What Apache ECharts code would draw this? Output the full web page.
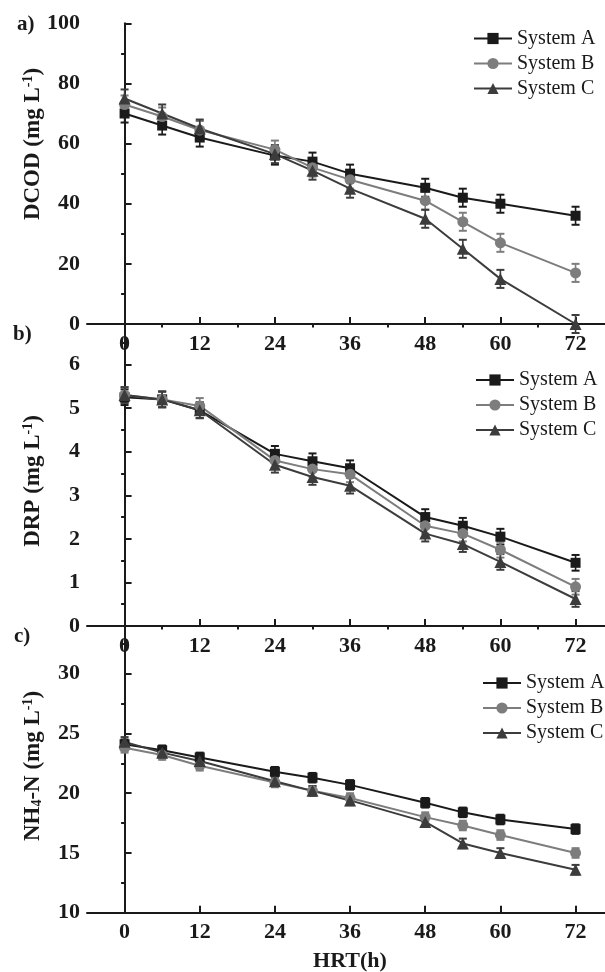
<!DOCTYPE html>
<html>
<head>
<meta charset="utf-8">
<script src="https://cdn.jsdelivr.net/npm/echarts@6/dist/echarts.min.js"></script>
<style>html,body{margin:0;padding:0;background:#fff}#c{width:605px;height:972px}</style>
</head>
<body>
<div id="c"></div>
<script>
const hours = [0, 6, 12, 24, 30, 36, 48, 54, 60, 72];
const seriesNames = ['System A', 'System B', 'System C'];
const xMajorTicks = [0, 12, 24, 36, 48, 60, 72];
const xMinorTicks = [6, 18, 30, 42, 54, 66];

// a) DCOD
const codA = [70, 66, 62, 56, 54, 50, 45.3, 42, 40, 36];
const codB = [73, 69, 64.5, 58, 52, 48, 41, 34, 27, 17];
const codC = [75, 70, 65, 56.5, 51, 45, 35, 25, 15, 0];
const codErrA = [3, 3, 3, 3, 3, 3, 3, 3, 3, 3];
const codErrB = [3, 3, 3, 3, 3, 3, 3, 3, 3, 3];
const codErrC = [3, 3, 3, 3, 3, 3, 3, 3, 3, 3];
const codMajor = [0, 20, 40, 60, 80, 100];
const codMinor = [10, 30, 50, 70, 90];

// b) DRP
const drpA = [5.25, 5.2, 4.95, 3.95, 3.78, 3.62, 2.5, 2.3, 2.05, 1.45];
const drpB = [5.3, 5.2, 5.05, 3.8, 3.6, 3.48, 2.3, 2.12, 1.75, 0.9];
const drpC = [5.3, 5.2, 4.95, 3.7, 3.42, 3.22, 2.12, 1.88, 1.47, 0.62];
const drpErrA = [0.18, 0.18, 0.18, 0.18, 0.18, 0.18, 0.18, 0.18, 0.18, 0.18];
const drpErrB = [0.18, 0.18, 0.18, 0.18, 0.18, 0.18, 0.18, 0.18, 0.18, 0.18];
const drpErrC = [0.18, 0.18, 0.18, 0.18, 0.18, 0.18, 0.18, 0.18, 0.18, 0.18];
const drpMajor = [0, 1, 2, 3, 4, 5, 6];
const drpMinor = [0.5, 1.5, 2.5, 3.5, 4.5, 5.5, 6.5];

// c) NH4-N
const nhA = [24.1, 23.6, 23.0, 21.8, 21.3, 20.7, 19.2, 18.4, 17.8, 17.0];
const nhB = [23.8, 23.2, 22.3, 20.9, 20.2, 19.6, 18.0, 17.3, 16.5, 15.0];
const nhC = [24.3, 23.4, 22.7, 21.0, 20.2, 19.4, 17.6, 15.8, 15.0, 13.6];
const nhErrA = [0.4, 0.4, 0.4, 0.4, 0.4, 0.4, 0.4, 0.4, 0.4, 0.4];
const nhErrB = [0.4, 0.4, 0.4, 0.4, 0.4, 0.4, 0.4, 0.4, 0.4, 0.4];
const nhErrC = [0.4, 0.4, 0.4, 0.4, 0.4, 0.4, 0.4, 0.4, 0.4, 0.4];
const nhMajor = [10, 15, 20, 25, 30];
const nhMinor = [12.5, 17.5, 22.5, 27.5, 32.5];

const FONT = "'Liberation Serif', 'Times New Roman', serif";
const colors = ['#1a1a1a', '#7d7d7d', '#3c3c3c'];
const symbols = ['rect', 'circle', 'triangle'];
const symbolSizes = [10, 11, 12];
const AX = '#1a1a1a';

const panels = [
  { top: 23.3, height: 300.7, min: 0, max: 100, major: codMajor, minor: codMinor,
    vals: [codA, codB, codC], errs: [codErrA, codErrB, codErrC] },
  { top: 324, height: 302, min: 0, max: 6.93, major: drpMajor, minor: drpMinor,
    vals: [drpA, drpB, drpC], errs: [drpErrA, drpErrB, drpErrC] },
  { top: 626, height: 286.7, min: 10, max: 34, major: nhMajor, minor: nhMinor,
    vals: [nhA, nhB, nhC], errs: [nhErrA, nhErrB, nhErrC] }
];

const grid = [], xAxis = [], yAxis = [], series = [];
const labelStyle = { color: AX, fontFamily: FONT, fontWeight: 'bold', fontSize: 22 };

panels.forEach((p, i) => {
  grid.push({ left: 87, right: 0, top: p.top, height: p.height, containLabel: false });
  xAxis.push({
    type: 'value', gridIndex: i, min: -6, max: 76.7,
    axisLine: { show: true, lineStyle: { color: AX, width: 2 } },
    axisTick: { show: true, inside: true, length: 7, customValues: xMajorTicks, lineStyle: { color: AX, width: 2 } },
    axisLabel: Object.assign({ show: true, margin: 9, customValues: xMajorTicks }, labelStyle),
    splitLine: { show: false }
  });
  xAxis.push({
    type: 'value', gridIndex: i, min: -6, max: 76.7,
    axisLine: { show: false },
    axisTick: { show: true, inside: true, length: 3.5, customValues: xMinorTicks, lineStyle: { color: AX, width: 2 } },
    axisLabel: { show: false, customValues: xMinorTicks },
    splitLine: { show: false }
  });
  yAxis.push({
    type: 'value', gridIndex: i, min: p.min, max: p.max,
    axisLine: { show: true, lineStyle: { color: AX, width: 2 } },
    axisTick: { show: true, inside: true, length: 7, customValues: p.major, lineStyle: { color: AX, width: 2 } },
    axisLabel: Object.assign({ show: true, margin: 7, customValues: p.major }, labelStyle),
    splitLine: { show: false }
  });
  yAxis.push({
    type: 'value', gridIndex: i, min: p.min, max: p.max,
    axisLine: { show: false },
    axisTick: { show: true, inside: true, length: 3.5, customValues: p.minor, lineStyle: { color: AX, width: 2 } },
    axisLabel: { show: false, customValues: p.minor },
    splitLine: { show: false }
  });

  p.vals.forEach((vals, s) => {
    const col = colors[s];
    const errs = p.errs[s];
    series.push({
      type: 'custom', name: seriesNames[s] + ' err', xAxisIndex: 2 * i, yAxisIndex: 2 * i,
      data: hours.map((h, k) => [h, vals[k], errs[k]]),
      encode: { x: 0, y: 1 }, clip: false, silent: true, z: 2,
      renderItem: function (params, api) {
        const x = api.value(0), y = api.value(1), e = api.value(2);
        const t = api.coord([x, y + e]), b = api.coord([x, y - e]);
        const hw = 4;
        return { type: 'group', children: [
          { type: 'line', shape: { x1: t[0], y1: t[1], x2: b[0], y2: b[1] }, style: { stroke: col, lineWidth: 1.6 } },
          { type: 'line', shape: { x1: t[0] - hw, y1: t[1], x2: t[0] + hw, y2: t[1] }, style: { stroke: col, lineWidth: 2 } },
          { type: 'line', shape: { x1: b[0] - hw, y1: b[1], x2: b[0] + hw, y2: b[1] }, style: { stroke: col, lineWidth: 2 } }
        ] };
      }
    });
    series.push({
      type: 'line', name: seriesNames[s], xAxisIndex: 2 * i, yAxisIndex: 2 * i,
      data: hours.map((h, k) => [h, vals[k]]),
      symbol: symbols[s], symbolSize: symbolSizes[s], showSymbol: true,
      lineStyle: { color: col, width: 2 },
      itemStyle: { color: col, borderWidth: 0 },
      z: 3, clip: false
    });
  });
});

const legendBase = {
  orient: 'vertical', data: seriesNames, itemWidth: 38, itemHeight: 14, itemGap: 5,
  padding: 0, selectedMode: false,
  textStyle: { color: AX, fontFamily: FONT, fontSize: 20 }
};
const legend = [
  Object.assign({ left: 473, top: 28.5 }, legendBase),
  Object.assign({ left: 475, top: 370 }, legendBase),
  Object.assign({ left: 482, top: 673 }, legendBase)
];

function vtitle(x, y, rich) {
  return { type: 'text', x: x, y: y, rotation: Math.PI / 2,
    style: { text: rich, align: 'center', verticalAlign: 'middle', fill: AX,
      font: "bold 23px " + FONT,
      rich: {
        b: { fontFamily: FONT, fontWeight: 'bold', fontSize: 23, color: AX },
        sup: { fontFamily: FONT, fontWeight: 'bold', fontSize: 14, verticalAlign: 'top', color: AX, lineHeight: 14 },
        sub: { fontFamily: FONT, fontWeight: 'bold', fontSize: 14, verticalAlign: 'bottom', color: AX, lineHeight: 14 }
      } } };
}
function ptext(x, y, t, size) {
  return { type: 'text', x: x, y: y,
    style: { text: t, align: 'left', verticalAlign: 'middle', fill: AX, font: 'bold ' + size + 'px ' + FONT } };
}

const graphic = [
  ptext(17, 25, 'a)', 21),
  ptext(13, 335, 'b)', 21),
  ptext(14, 637, 'c)', 21),
  vtitle(33, 144, '{b|DCOD (mg L}{sup|-1}{b|)}'),
  vtitle(33, 481, '{b|DRP (mg L}{sup|-1}{b|)}'),
  vtitle(33, 766, '{b|NH}{sub|4}{b|-N (mg L}{sup|-1}{b|)}'),
  { type: 'text', x: 350, y: 961, style: { text: 'HRT(h)', align: 'center', verticalAlign: 'middle', fill: AX, font: 'bold 22px ' + FONT } }
];

const chart = echarts.init(document.getElementById('c'), null, { renderer: 'canvas' });
chart.setOption({ animation: false, backgroundColor: '#fff', grid, xAxis, yAxis, series, legend, graphic });
</script>
</body>
</html>
